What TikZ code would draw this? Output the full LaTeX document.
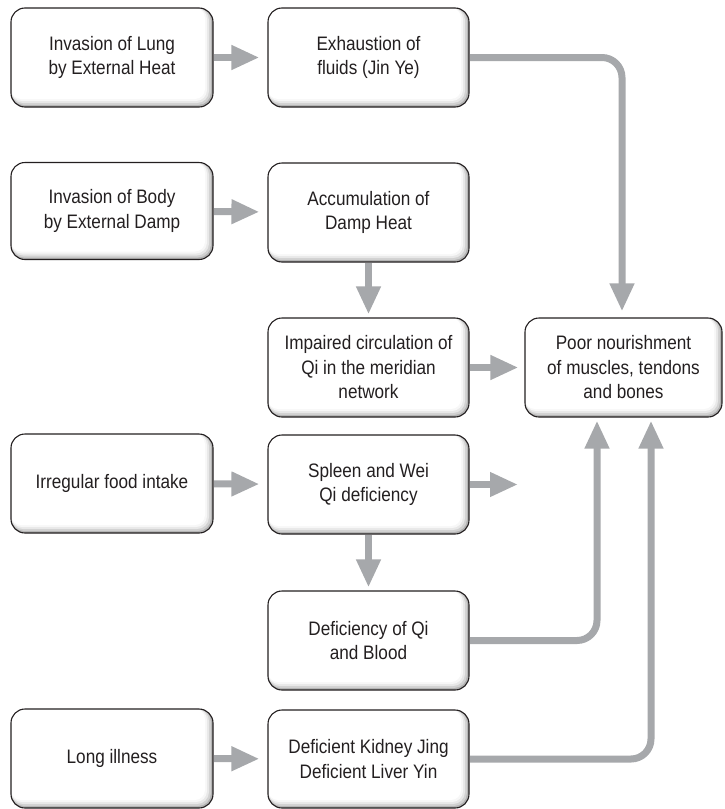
\documentclass[tikz,border=0pt]{standalone}
\usepackage{fontspec}
\setmainfont{Liberation Sans}[FakeStretch=0.88]
\usetikzlibrary{arrows.meta}
\definecolor{arrowgray}{RGB}{166,168,171}
\definecolor{inkc}{RGB}{35,31,32}
\tikzset{
  box/.style={draw=inkc, line width=1.1pt, rounded corners=14pt, fill=white,
    align=center, inner sep=0pt, text=inkc,
    font=\fontsize{19.5pt}{24.5pt}\selectfont,
    minimum width=201pt, minimum height=99pt,
    path picture={
      \fill[black!30] (path picture bounding box.south west) rectangle (path picture bounding box.north east);
      \fill[black!18, rounded corners=13pt] ([yshift=2pt]path picture bounding box.south west) rectangle ([xshift=-2pt]path picture bounding box.north east);
      \fill[black!9, rounded corners=12pt] ([yshift=4pt]path picture bounding box.south west) rectangle ([xshift=-4pt]path picture bounding box.north east);
      \fill[black!3, rounded corners=11pt] ([yshift=6pt]path picture bounding box.south west) rectangle ([xshift=-6pt]path picture bounding box.north east);
      \fill[white, rounded corners=10pt] ([yshift=8pt]path picture bounding box.south west) rectangle ([xshift=-8pt]path picture bounding box.north east);
    }},
  flow/.style={draw=arrowgray, line width=7pt, -{Triangle[length=28pt,width=23pt]}, shorten <=0.6pt},
  bendflow/.style={flow, rounded corners=20pt}
}
\begin{document}
\begin{tikzpicture}[x=1pt,y=-1pt]
\useasboundingbox (0,0) rectangle (724,809);
\node[box, minimum width=202pt] (a1) at (112,57.5) {Invasion of Lung\\by External Heat};
\node[box] (b1) at (368.5,57.5) {Exhaustion of\\fluids (Jin Ye)};
\node[box, minimum width=202pt, minimum height=97pt] (a2) at (112,211) {Invasion of Body\\by External Damp};
\node[box] (b2) at (368.5,212.5) {Accumulation of\\Damp Heat};
\node[box] (b3) at (368.5,367.5) {Impaired circulation of\\Qi in the meridian\\network};
\node[box, minimum width=197pt] (p) at (623.5,367.5) {Poor nourishment\\of muscles, tendons\\and bones};
\node[box, minimum width=202pt] (a3) at (112,483.5) {Irregular food intake};
\node[box] (b4) at (368.5,484.5) {Spleen and Wei\\Qi deficiency};
\node[box] (b5) at (368.5,640.5) {Deficiency of Qi\\and Blood};
\node[box, minimum width=202pt] (a4) at (112,758.5) {Long illness};
\node[box, minimum height=98pt] (b6) at (368.5,759) {Deficient Kidney Jing\\Deficient Liver Yin};
\coordinate (free) at (518,484.5);

\draw[flow, shorten >=8pt] (a1) -- (b1);
\draw[flow, shorten >=8pt] (a2) -- (b2);
\draw[flow, shorten >=8pt] (a3) -- (b4);
\draw[flow, shorten >=8pt] (a4) -- (b6);
\draw[flow, shorten >=3pt] (b2) -- (b3);
\draw[flow, shorten >=3pt] (b4) -- (b5);
\draw[flow, shorten >=6pt] (b3) -- (p);
\draw[flow] (b4) -- (free);
\draw[bendflow, shorten >=6pt] (b1.east) -| ([xshift=-1.5pt]p.north);
\draw[bendflow, shorten >=3pt] (b5.east) -| ([xshift=-26.5pt]p.south);
\draw[bendflow, shorten >=3pt] (b6.east) -| ([xshift=27.5pt]p.south);
\end{tikzpicture}
\end{document}
